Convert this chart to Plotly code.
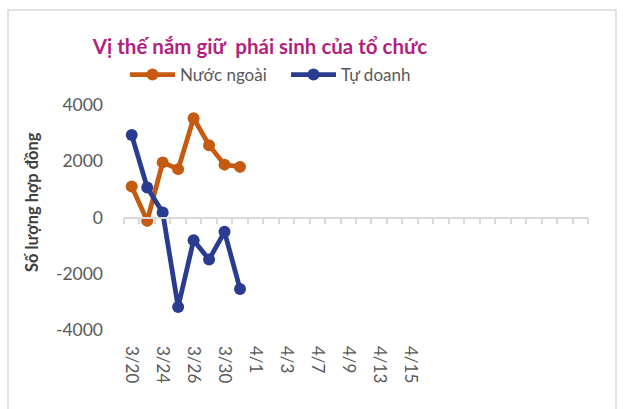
import plotly.graph_objects as go

categories = ["3/20", "3/23", "3/24", "3/25", "3/26", "3/27", "3/30", "3/31",
              "4/1", "4/2", "4/3", "4/6", "4/7", "4/8", "4/9", "4/10",
              "4/13", "4/14", "4/15", "4/16",
              "", "", "", "", "", "", "", "", "", ""]
nuoc_ngoai = [1100, -120, 1960, 1720, 3530, 2570, 1880, 1800]
tu_doanh = [2930, 1070, 180, -3180, -810, -1495, -510, -2540]
y_ticks = [-4000, -2000, 0, 2000, 4000]
y_tick_text = ["-4000", "-2000", "0", "2000", "4000"]

x_idx = list(range(len(categories)))
label_idx = [i for i in x_idx if i % 2 == 0 and categories[i]]
label_txt = [categories[i] for i in label_idx]

ORANGE = "#C55A11"
BLUE = "#2A3C90"
GRAY = "#595959"
LIGHT = "#D9D9D9"
FONT = "Lato, 'Open Sans', sans-serif"

fig = go.Figure()
fig.add_trace(go.Scatter(
    x=x_idx[:len(nuoc_ngoai)], y=nuoc_ngoai, name="Nước ngoài",
    mode="lines+markers", line=dict(color=ORANGE, width=4.8),
    marker=dict(color=ORANGE, size=12)))
fig.add_trace(go.Scatter(
    x=x_idx[:len(tu_doanh)], y=tu_doanh, name="Tự doanh",
    mode="lines+markers", line=dict(color=BLUE, width=4.8),
    marker=dict(color=BLUE, size=12)))
fig.add_trace(go.Scatter(x=[None], y=[None], xaxis="x2", showlegend=False,
                         hoverinfo="skip"))

xr = [-0.5, len(categories) - 0.5]
W, H = 623, 409
L, R, T, B = 124, 35, 105, 79
pw, ph = W - L - R, H - T - B

fig.update_layout(
    width=W, height=H, autosize=False,
    margin=dict(l=L, r=R, t=T, b=B, autoexpand=False),
    paper_bgcolor="white", plot_bgcolor="white",
    font=dict(family=FONT, color=GRAY),
    title=dict(text="<b>Vị thế nắm giữ  phái sinh của tổ chức</b>",
               x=260 / W, xanchor="center", y=1 - 47 / H, yanchor="middle",
               font=dict(size=20.5, color="#B21F7E", family=FONT)),
    legend=dict(orientation="h", x=(125 - L) / pw, xanchor="left",
                y=(H - B - 75) / ph, yanchor="middle",
                font=dict(size=17, color=GRAY), bgcolor="rgba(0,0,0,0)",
                itemwidth=45, tracegroupgap=0, entrywidth=101,
                entrywidthmode="pixels"),
    xaxis=dict(range=xr, tickmode="array", tickvals=label_idx, ticktext=label_txt,
               tickangle=90, showline=False, showgrid=False, zeroline=False,
               ticks="", ticklabelstandoff=15, automargin=False,
               tickfont=dict(size=17, color=GRAY)),
    xaxis2=dict(range=xr, overlaying="x", anchor="free", position=0.5,
                showline=True, linecolor=LIGHT, linewidth=1.5,
                ticks="outside", ticklen=6, tickcolor=LIGHT, tickwidth=1.5,
                tickmode="array", tickvals=[i - 0.5 for i in range(len(categories) + 1)],
                showticklabels=False, showgrid=False, zeroline=False,
                automargin=False),
    yaxis=dict(range=[-4000, 4000], tickmode="array", tickvals=y_ticks,
               ticktext=y_tick_text, automargin=False,
               showgrid=False, zeroline=False, showline=False, ticks="",
               ticklabelstandoff=20, tickfont=dict(size=17.5, color=GRAY)),
    annotations=[dict(text="<b>Số lượng hợp đồng</b>", textangle=-90,
                      xref="paper", yref="paper", x=(32 - L) / pw,
                      y=(H - B - 202) / ph, xanchor="center", yanchor="middle",
                      showarrow=False, font=dict(size=16.5, color="#404040"))],
    shapes=[dict(type="rect", xref="paper", yref="paper",
                 x0=(8 - L) / pw, x1=(616 - L) / pw,
                 y0=(H - B - 412) / ph, y1=(H - B - 10) / ph,
                 line=dict(color=LIGHT, width=1.5), layer="below")],
)

fig.write_html("out.html", config={"displayModeBar": False},
               post_script="document.body.style.margin='0';document.body.style.padding='0';")
